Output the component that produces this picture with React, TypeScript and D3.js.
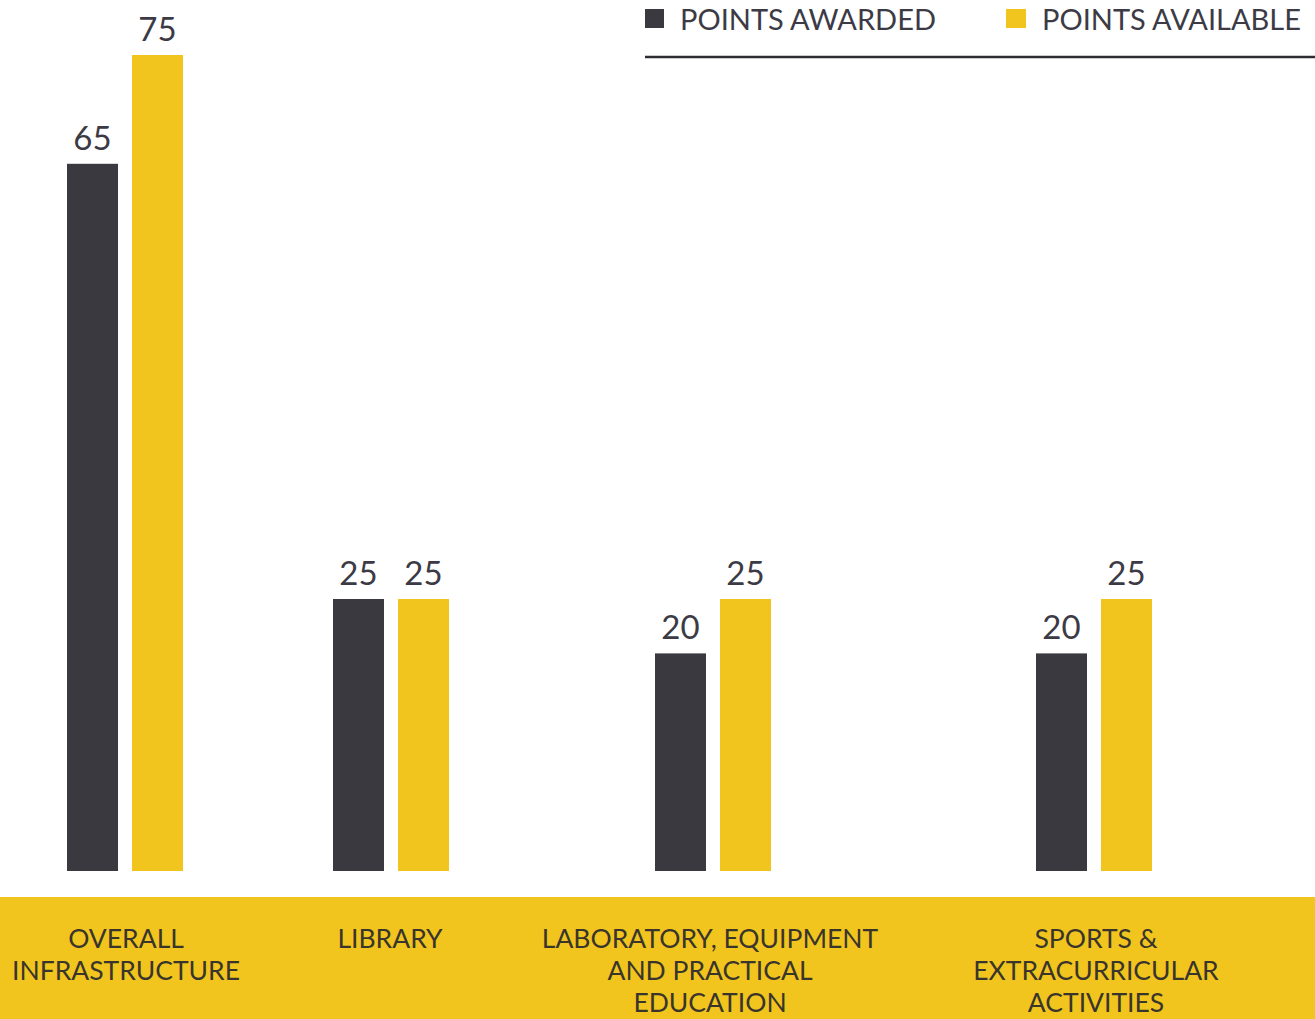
import * as d3 from "d3";

const categories = ["Overall Infrastructure", "Library", "Laboratory", "Sports"];
const categoryLines = [
  ["OVERALL", "INFRASTRUCTURE"],
  ["LIBRARY"],
  ["LABORATORY, EQUIPMENT", "AND PRACTICAL", "EDUCATION"],
  ["SPORTS &", "EXTRACURRICULAR", "ACTIVITIES"],
];
const pointsAwarded = [65, 25, 20, 20];
const pointsAvailable = [75, 25, 25, 25];
const seriesNames = ["POINTS AWARDED", "POINTS AVAILABLE"];

const DARK = "#3a3940";
const YELLOW = "#f1c51e";
const TEXT = "#3c3b45";

export default function App() {
  const width = 1315;
  const height = 1019;
  const baseline = 871;
  const barW = 51;
  const gap = 14;

  // group centres are not evenly spaced in the original layout
  const x = d3
    .scaleOrdinal<string, number>()
    .domain(categories)
    .range([125, 391, 713, 1094]);

  const y = d3.scaleLinear().domain([0, 75]).range([baseline, 55]);

  const labelX = d3
    .scaleOrdinal<string, number>()
    .domain(categories)
    .range([126, 390, 710, 1096]);

  return (
    <div style={{ position: "absolute", left: 0, top: 0 }}>
      <svg width={width} height={height} style={{ display: "block", fontFamily: "Lato, 'Open Sans', sans-serif" }}>
        <rect x={0} y={0} width={width} height={height} fill="#ffffff" />

        {/* legend */}
        <rect x={645} y={9} width={19} height={19} fill={DARK} />
        <text x={680} y={30} fontSize={29} fill={TEXT}>
          {seriesNames[0]}
        </text>
        <rect x={1006} y={9} width={20} height={19} fill={YELLOW} />
        <text x={1042} y={30} fontSize={29} fill={TEXT}>
          {seriesNames[1]}
        </text>
        <line x1={645} x2={width} y1={57} y2={57} stroke="#2e2d33" strokeWidth={2.5} />

        {/* bars */}
        {categories.map((c, i) => {
          const cx = x(c);
          const x0 = cx - gap / 2 - barW;
          const x1 = cx + gap / 2;
          return (
            <g key={c}>
              <rect x={x0} y={y(pointsAwarded[i])} width={barW} height={baseline - y(pointsAwarded[i])} fill={DARK} />
              <rect x={x1} y={y(pointsAvailable[i])} width={barW} height={baseline - y(pointsAvailable[i])} fill={YELLOW} />
              <text x={x0 + barW / 2} y={y(pointsAwarded[i]) - 14} textAnchor="middle" fontSize={33} fill={TEXT}>
                {pointsAwarded[i]}
              </text>
              <text x={x1 + barW / 2} y={y(pointsAvailable[i]) - 14} textAnchor="middle" fontSize={33} fill={TEXT}>
                {pointsAvailable[i]}
              </text>
            </g>
          );
        })}

        {/* category band */}
        <rect x={0} y={897} width={width} height={height - 897} fill={YELLOW} />
        {categories.map((c, i) => (
          <text key={c} x={labelX(c)} textAnchor="middle" fontSize={26.5} fill="#3a352c">
            {categoryLines[i].map((line, j) => (
              <tspan key={j} x={labelX(c)} y={948 + j * 32}>
                {line}
              </tspan>
            ))}
          </text>
        ))}
      </svg>
    </div>
  );
}
